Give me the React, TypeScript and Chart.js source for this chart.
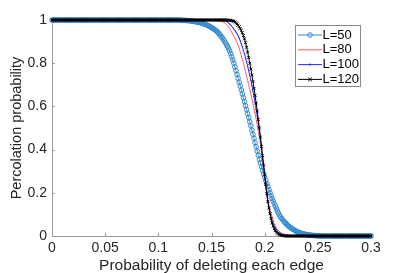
import React, { useEffect, useRef } from "react";
import { Chart, registerables } from "chart.js";

Chart.register(...registerables);

// Sampling step of the deletion probability (x axis)
const P_STEP = 0.001;

const X_TICKS = [0, 0.05, 0.1, 0.15, 0.2, 0.25, 0.3];
const X_TICK_LABELS = ["0", "0.05", "0.1", "0.15", "0.2", "0.25", "0.3"];
const Y_TICKS = [0, 0.2, 0.4, 0.6, 0.8, 1];
const Y_TICK_LABELS = ["0", "0.2", "0.4", "0.6", "0.8", "1"];

const SERIES_LABELS = ["L=50", "L=80", "L=100", "L=120"];

// Percolation probability, one value per P_STEP from 0 to 0.3
const L50 = [
  1,1,1,1,1,1,1,1,1,1,
  1,1,1,1,1,1,1,1,1,1,
  1,1,1,1,1,1,1,1,1,1,
  1,1,1,1,1,1,1,1,1,1,
  1,1,1,1,1,1,1,1,1,1,
  1,1,1,1,1,1,1,1,1,1,
  1,1,1,1,1,1,1,1,1,1,
  1,1,1,1,1,1,1,1,1,1,
  1,1,1,1,1,1,1,1,1,1,
  1,1,1,1,1,1,1,1,1,1,
  1,1,1,1,1,1,1,1,1,1,
  1,1,1,1,1,1,1,1,1,1,
  0.999,0.999,0.999,0.998,0.998,0.998,0.998,0.997,0.997,0.997,
  0.996,0.995,0.995,0.994,0.993,0.992,0.991,0.99,0.989,0.988,
  0.987,0.985,0.983,0.982,0.98,0.978,0.976,0.973,0.971,0.968,
  0.965,0.962,0.959,0.955,0.952,0.948,0.943,0.937,0.931,0.925,
  0.918,0.911,0.903,0.895,0.887,0.878,0.868,0.857,0.844,0.83,
  0.815,0.8,0.783,0.766,0.748,0.73,0.712,0.694,0.676,0.658,
  0.64,0.622,0.603,0.585,0.566,0.548,0.529,0.51,0.49,0.471,
  0.452,0.432,0.413,0.393,0.374,0.355,0.338,0.321,0.304,0.288,
  0.272,0.257,0.242,0.228,0.214,0.2,0.187,0.174,0.162,0.15,
  0.138,0.127,0.116,0.106,0.096,0.087,0.081,0.075,0.069,0.063,
  0.058,0.053,0.048,0.044,0.04,0.036,0.033,0.03,0.027,0.024,
  0.021,0.019,0.017,0.015,0.013,0.012,0.01,0.009,0.008,0.007,
  0.006,0.005,0.005,0.004,0.003,0.003,0.002,0.002,0.002,0.001,
  0.001,0.001,0.001,0,0,0,0,0,0,0,
  0,0,0,0,0,0,0,0,0,0,
  0,0,0,0,0,0,0,0,0,0,
  0,0,0,0,0,0,0,0,0,0,
  0,0,0,0,0,0,0,0,0,0,
  0,
];

const L80 = [
  1,1,1,1,1,1,1,1,1,1,
  1,1,1,1,1,1,1,1,1,1,
  1,1,1,1,1,1,1,1,1,1,
  1,1,1,1,1,1,1,1,1,1,
  1,1,1,1,1,1,1,1,1,1,
  1,1,1,1,1,1,1,1,1,1,
  1,1,1,1,1,1,1,1,1,1,
  1,1,1,1,1,1,1,1,1,1,
  1,1,1,1,1,1,1,1,1,1,
  1,1,1,1,1,1,1,1,1,1,
  1,1,1,1,1,1,1,1,1,1,
  1,1,1,1,1,1,1,1,1,1,
  1,1,1,1,1,1,1,1,1,1,
  1,1,1,1,1,1,1,1,1,1,
  1,1,1,1,1,1,1,0.999,0.999,0.999,
  0.999,0.998,0.998,0.998,0.997,0.997,0.996,0.995,0.994,0.993,
  0.992,0.99,0.987,0.984,0.98,0.975,0.968,0.961,0.953,0.944,
  0.935,0.926,0.916,0.906,0.896,0.885,0.87,0.853,0.836,0.818,
  0.8,0.781,0.761,0.741,0.72,0.7,0.679,0.657,0.635,0.613,
  0.59,0.565,0.539,0.513,0.487,0.46,0.425,0.39,0.352,0.312,
  0.272,0.235,0.2,0.17,0.145,0.123,0.104,0.087,0.072,0.058,
  0.047,0.038,0.031,0.025,0.02,0.016,0.013,0.011,0.009,0.007,
  0.006,0.005,0.004,0.003,0.002,0.002,0.001,0.001,0,0,
  0,0,0,0,0,0,0,0,0,0,
  0,0,0,0,0,0,0,0,0,0,
  0,0,0,0,0,0,0,0,0,0,
  0,0,0,0,0,0,0,0,0,0,
  0,0,0,0,0,0,0,0,0,0,
  0,0,0,0,0,0,0,0,0,0,
  0,0,0,0,0,0,0,0,0,0,
  0,
];

const L100 = [
  1,1,1,1,1,1,1,1,1,1,
  1,1,1,1,1,1,1,1,1,1,
  1,1,1,1,1,1,1,1,1,1,
  1,1,1,1,1,1,1,1,1,1,
  1,1,1,1,1,1,1,1,1,1,
  1,1,1,1,1,1,1,1,1,1,
  1,1,1,1,1,1,1,1,1,1,
  1,1,1,1,1,1,1,1,1,1,
  1,1,1,1,1,1,1,1,1,1,
  1,1,1,1,1,1,1,1,1,1,
  1,1,1,1,1,1,1,1,1,1,
  1,1,1,1,1,1,1,1,1,1,
  1,1,1,1,1,1,1,1,1,1,
  1,1,1,1,1,1,1,1,1,1,
  1,1,1,1,1,1,1,1,1,1,
  1,1,1,1,1,1,0.999,0.999,0.999,0.998,
  0.998,0.997,0.996,0.995,0.993,0.99,0.986,0.982,0.977,0.971,
  0.965,0.958,0.951,0.944,0.936,0.928,0.917,0.904,0.89,0.875,
  0.86,0.843,0.825,0.806,0.786,0.765,0.743,0.72,0.696,0.671,
  0.645,0.617,0.587,0.556,0.523,0.49,0.453,0.413,0.37,0.325,
  0.28,0.235,0.193,0.158,0.13,0.106,0.086,0.069,0.055,0.044,
  0.035,0.028,0.022,0.017,0.013,0.01,0.008,0.006,0.004,0.003,
  0.002,0.001,0.001,0,0,0,0,0,0,0,
  0,0,0,0,0,0,0,0,0,0,
  0,0,0,0,0,0,0,0,0,0,
  0,0,0,0,0,0,0,0,0,0,
  0,0,0,0,0,0,0,0,0,0,
  0,0,0,0,0,0,0,0,0,0,
  0,0,0,0,0,0,0,0,0,0,
  0,0,0,0,0,0,0,0,0,0,
  0,
];

const L120 = [
  1,1,1,1,1,1,1,1,1,1,
  1,1,1,1,1,1,1,1,1,1,
  1,1,1,1,1,1,1,1,1,1,
  1,1,1,1,1,1,1,1,1,1,
  1,1,1,1,1,1,1,1,1,1,
  1,1,1,1,1,1,1,1,1,1,
  1,1,1,1,1,1,1,1,1,1,
  1,1,1,1,1,1,1,1,1,1,
  1,1,1,1,1,1,1,1,1,1,
  1,1,1,1,1,1,1,1,1,1,
  1,1,1,1,1,1,1,1,1,1,
  1,1,1,1,1,1,1,1,1,1,
  1,1,1,1,1,1,1,1,1,1,
  1,1,1,1,1,1,1,1,1,1,
  1,1,1,1,1,1,1,1,1,1,
  1,1,1,1,1,1,1,1,1,1,
  1,1,1,1,1,1,0.999,0.999,0.998,0.997,
  0.996,0.994,0.991,0.987,0.982,0.976,0.969,0.961,0.952,0.941,
  0.928,0.913,0.895,0.874,0.851,0.826,0.8,0.773,0.745,0.715,
  0.684,0.651,0.616,0.579,0.54,0.5,0.458,0.415,0.372,0.328,
  0.283,0.238,0.196,0.16,0.13,0.103,0.08,0.061,0.046,0.034,
  0.025,0.018,0.013,0.009,0.006,0.004,0.003,0.002,0.001,0.001,
  0,0,0,0,0,0,0,0,0,0,
  0,0,0,0,0,0,0,0,0,0,
  0,0,0,0,0,0,0,0,0,0,
  0,0,0,0,0,0,0,0,0,0,
  0,0,0,0,0,0,0,0,0,0,
  0,0,0,0,0,0,0,0,0,0,
  0,0,0,0,0,0,0,0,0,0,
  0,0,0,0,0,0,0,0,0,0,
  0,
];

const FONT = '"Liberation Sans", Arial, Helvetica, sans-serif';
const AXIS_COLOR = "#9a9a9a";
const TEXT_COLOR = "#262626";

const toPoints = (vals: number[]) => vals.map((v, i) => ({ x: i * P_STEP, y: v }));

function drawMarker(ctx: CanvasRenderingContext2D, style: string, x: number, y: number, r: number) {
  ctx.beginPath();
  if (style === "circle") {
    ctx.arc(x, y, r, 0, Math.PI * 2);
    ctx.stroke();
  } else if (style === "dot") {
    ctx.arc(x, y, r, 0, Math.PI * 2);
    ctx.fill();
  } else if (style === "crossRot") {
    ctx.moveTo(x - r, y - r);
    ctx.lineTo(x + r, y + r);
    ctx.moveTo(x - r, y + r);
    ctx.lineTo(x + r, y - r);
    ctx.stroke();
  }
}

const inwardTicks = {
  id: "inwardTicks",
  beforeDatasetsDraw(chart: any, _args: any, opts: any) {
    const ctx = chart.ctx as CanvasRenderingContext2D;
    const { x, y } = chart.scales;
    const len = opts.length;
    ctx.save();
    ctx.strokeStyle = opts.color;
    ctx.lineWidth = 1;
    ctx.beginPath();
    X_TICKS.forEach((v) => {
      const px = Math.round(x.getPixelForValue(v)) + 0.5;
      ctx.moveTo(px, chart.chartArea.bottom);
      ctx.lineTo(px, chart.chartArea.bottom - len);
    });
    Y_TICKS.forEach((v) => {
      const py = Math.round(y.getPixelForValue(v)) + 0.5;
      ctx.moveTo(chart.chartArea.left, py);
      ctx.lineTo(chart.chartArea.left + len, py);
    });
    ctx.stroke();
    ctx.restore();
  },
};

const boxLegend = {
  id: "boxLegend",
  afterDraw(chart: any, _args: any, opts: any) {
    const ctx = chart.ctx as CanvasRenderingContext2D;
    ctx.save();
    ctx.fillStyle = "#ffffff";
    ctx.fillRect(opts.left, opts.top, opts.right - opts.left, opts.bottom - opts.top);
    ctx.strokeStyle = opts.borderColor;
    ctx.lineWidth = 1;
    ctx.strokeRect(opts.left, opts.top, opts.right - opts.left, opts.bottom - opts.top);
    ctx.font = opts.font;
    ctx.textBaseline = "middle";
    ctx.textAlign = "left";
    chart.data.datasets.forEach((ds: any, i: number) => {
      const yy = opts.rowStart + i * opts.rowGap;
      ctx.strokeStyle = ds.borderColor;
      ctx.fillStyle = ds.borderColor;
      ctx.lineWidth = ds.borderWidth;
      ctx.beginPath();
      ctx.moveTo(opts.lineX0, yy);
      ctx.lineTo(opts.lineX1, yy);
      ctx.stroke();
      if (ds.legendMarker) {
        ctx.lineWidth = 1;
        drawMarker(ctx, ds.legendMarker, (opts.lineX0 + opts.lineX1) / 2, yy, ds.legendMarkerRadius);
      }
      ctx.fillStyle = opts.textColor;
      ctx.fillText(ds.label, opts.textX, yy);
    });
    ctx.restore();
  },
};

export default function App() {
  const canvasRef = useRef<HTMLCanvasElement | null>(null);

  useEffect(() => {
    document.body.style.margin = "0";
    const canvas = canvasRef.current;
    if (!canvas) return;

    const chart = new Chart(canvas, {
      type: "line",
      data: {
        datasets: [
          {
            label: SERIES_LABELS[0],
            data: toPoints(L50),
            borderColor: "#3389d0",
            backgroundColor: "rgba(0,0,0,0)",
            borderWidth: 1,
            pointStyle: "circle",
            pointRadius: 2.3,
            pointBorderWidth: 1,
            pointBorderColor: "#3389d0",
            pointBackgroundColor: "rgba(0,0,0,0)",
            order: 4,
            legendMarker: "circle",
            legendMarkerRadius: 2.3,
          } as any,
          {
            label: SERIES_LABELS[1],
            data: toPoints(L80),
            borderColor: "#ff5c5c",
            borderWidth: 1,
            pointRadius: 0,
            order: 3,
          } as any,
          {
            label: SERIES_LABELS[2],
            data: toPoints(L100),
            borderColor: "#2828ff",
            borderWidth: 1,
            pointStyle: "circle",
            pointRadius: 0.6,
            pointBorderWidth: 0,
            pointBackgroundColor: "#2828ff",
            order: 2,
            legendMarker: "dot",
            legendMarkerRadius: 1,
          } as any,
          {
            label: SERIES_LABELS[3],
            data: toPoints(L120),
            borderColor: "#000000",
            borderWidth: 1,
            pointStyle: "crossRot",
            pointRadius: 2,
            pointBorderWidth: 1,
            pointBorderColor: "#000000",
            order: 1,
            legendMarker: "crossRot",
            legendMarkerRadius: 1.8,
          } as any,
        ],
      },
      options: {
        responsive: false,
        animation: false,
        events: [],
        layout: { padding: { left: 0, top: 20, right: 38, bottom: 0 } },
        elements: { line: { tension: 0 } },
        datasets: { line: { clip: false as any } },
        plugins: {
          legend: { display: false },
          tooltip: { enabled: false },
          inwardTicks: { length: 3, color: AXIS_COLOR },
          boxLegend: {
            left: 295.5,
            right: 360.5,
            top: 25.5,
            bottom: 86.5,
            borderColor: "#8a8a8a",
            rowStart: 35,
            rowGap: 14.8,
            lineX0: 298,
            lineX1: 322,
            textX: 322.5,
            font: `13px ${FONT}`,
            textColor: "#000000",
          },
        } as any,
        scales: {
          x: {
            type: "linear",
            min: 0,
            max: 0.3,
            afterBuildTicks: (scale: any) => {
              scale.ticks = X_TICKS.map((v) => ({ value: v }));
            },
            afterFit: (scale: any) => {
              scale.height = 37;
            },
            grid: { display: true, drawOnChartArea: false, drawTicks: false },
            border: { display: true, color: AXIS_COLOR, width: 1 },
            ticks: {
              padding: 4,
              color: TEXT_COLOR,
              font: { family: FONT, size: 14 },
              maxRotation: 0,
              autoSkip: false,
              callback: (_v: any, i: number) => X_TICK_LABELS[i],
            },
            title: {
              display: true,
              text: "Probability of deleting each edge",
              color: TEXT_COLOR,
              font: { family: FONT, size: 15.5, lineHeight: 1 },
              padding: { top: 0, bottom: 0 },
            },
          },
          y: {
            type: "linear",
            min: 0,
            max: 1,
            afterBuildTicks: (scale: any) => {
              scale.ticks = Y_TICKS.map((v) => ({ value: v }));
            },
            afterFit: (scale: any) => {
              scale.width = 52;
            },
            grid: { display: true, drawOnChartArea: false, drawTicks: false },
            border: { display: true, color: AXIS_COLOR, width: 1 },
            ticks: {
              padding: 5,
              color: TEXT_COLOR,
              font: { family: FONT, size: 14 },
              autoSkip: false,
              callback: (_v: any, i: number) => Y_TICK_LABELS[i],
            },
            title: {
              display: true,
              text: "Percolation probability",
              color: TEXT_COLOR,
              font: { family: FONT, size: 14.5 },
              padding: { top: 8, bottom: 0 },
            },
          },
        },
      },
      plugins: [inwardTicks, boxLegend],
    });

    return () => chart.destroy();
  }, []);

  return (
    <div style={{ width: 409, height: 273 }}>
      <canvas ref={canvasRef} width={409} height={273} style={{ display: "block" }} />
    </div>
  );
}
